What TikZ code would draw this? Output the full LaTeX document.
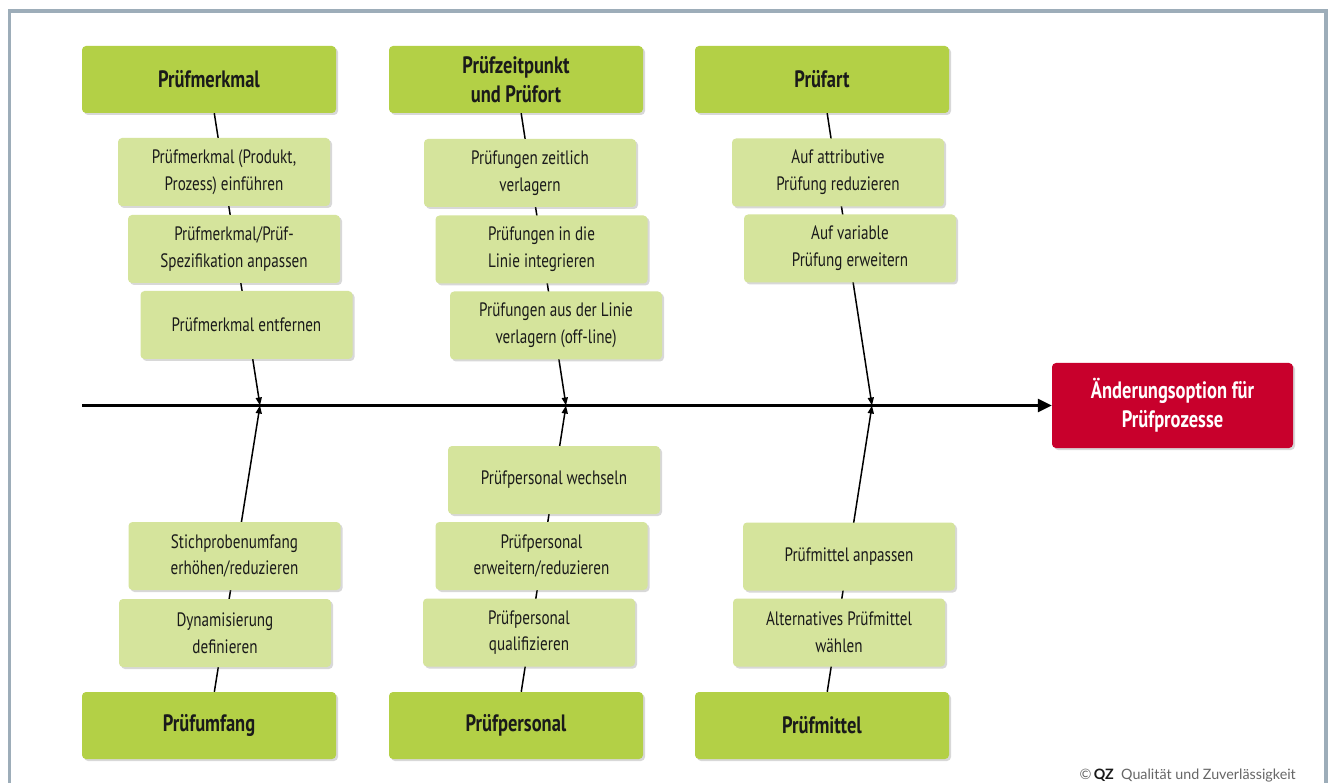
\documentclass[tikz,border=0pt]{standalone}
\usepackage{fontspec}
\setmainfont{PT Sans}[FakeStretch=0.78]
\newfontfamily\cpfont{Lato}
\usetikzlibrary{arrows.meta,shadows,calc}
\definecolor{maingreen}{HTML}{B3D046}
\definecolor{lightgreen}{HTML}{D5E49C}
\definecolor{qzred}{HTML}{C8002C}
\definecolor{framegrey}{HTML}{9DADB9}
\definecolor{txt}{HTML}{1A1A1A}
\tikzset{
  boxshadow/.style={drop shadow={opacity=0.25,shadow xshift=2pt,shadow yshift=-2pt,fill=black!60}},
  mainbox/.style={fill=maingreen,rounded corners=4pt,minimum width=254pt,minimum height=67pt,
    align=center,text=txt,font=\fontsize{23.7}{29}\selectfont\bfseries,boxshadow,inner sep=0pt},
  subbox/.style={fill=lightgreen,rounded corners=4pt,minimum width=212pt,minimum height=68pt,
    align=center,text=txt,font=\fontsize{19.4}{26.7}\selectfont,boxshadow,inner sep=0pt},
  goalbox/.style={fill=qzred,rounded corners=4pt,minimum width=241pt,minimum height=85pt,
    align=center,text=white,font=\fontsize{23.7}{29}\selectfont\bfseries,boxshadow,inner sep=0pt},
  spine/.style={line width=1.5pt,black,-{Triangle[length=8pt,width=6pt]}},
  axis/.style={line width=2.5pt,black,-{Triangle[length=14pt,width=13pt]}}
}
\begin{document}
\begin{tikzpicture}[x=1pt,y=-1pt]
\useasboundingbox (0,0) rectangle (1333,783);
\fill[white] (0,0) rectangle (1333,783);
\begin{scope}
\clip (0,0) rectangle (1333,783);
\draw[framegrey,line width=3.5pt] (9.5,11) rectangle (1326,810);
\end{scope}
% main cause boxes
\node[mainbox] (m1) at (209,79.5) {Prüfmerkmal};
\node[mainbox] (m2) at (516,79.5) {Prüfzeitpunkt\\und Prüfort};
\node[mainbox] (m3) at (822,79.5) {Prüfart};
\node[mainbox] (m4) at (209,725.5) {Prüfumfang};
\node[mainbox] (m5) at (516,725.5) {Prüfpersonal};
\node[mainbox] (m6) at (822,725.5) {Prüfmittel};
\node[goalbox] (goal) at (1172.5,405.5) {Änderungsoption für\\Prüfprozesse};
% axis
\coordinate (start) at (82,405.5);
\coordinate (a1) at (260,405.5);
\coordinate (a2) at (566,405.5);
\coordinate (a3) at (872,405.5);
\draw[axis] (start) -- (goal.west);
\draw[spine] (m1) -- (a1);
\draw[spine] (m2) -- (a2);
\draw[spine] (m3) -- (a3);
\draw[spine] (m4) -- (a1);
\draw[spine] (m5) -- (a2);
\draw[spine] (m6) -- (a3);
% sub boxes top
\node[subbox] (s11) at (224,172) {Prüfmerkmal (Produkt,\\Prozess) einführen};
\node[subbox] (s12) at (234,249) {Prüfmerkmal/Prüf-\\Spezifikation anpassen};
\node[subbox] (s13) at (246.5,325) {Prüfmerkmal entfernen};
\node[subbox] (s21) at (530,173) {Prüfungen zeitlich\\verlagern};
\node[subbox] (s22) at (541.5,249.5) {Prüfungen in die\\Linie integrieren};
\node[subbox] (s23) at (556,325.5) {Prüfungen aus der Linie\\verlagern (off-line)};
\node[subbox] (s31) at (838,172.5) {Auf attributive\\Prüfung reduzieren};
\node[subbox] (s32) at (850,248.5) {Auf variable\\Prüfung erweitern};
% sub boxes bottom
\node[subbox] (s41) at (234.5,556) {Stichprobenumfang\\erhöhen/reduzieren};
\node[subbox] (s42) at (225,633) {Dynamisierung\\definieren};
\node[subbox] (s51) at (554,480) {Prüfpersonal wechseln};
\node[subbox] (s52) at (541.5,556) {Prüfpersonal\\erweitern/reduzieren};
\node[subbox] (s53) at (529,632.5) {Prüfpersonal\\qualifizieren};
\node[subbox] (s61) at (849,556.5) {Prüfmittel anpassen};
\node[subbox] (s62) at (839,632.5) {Alternatives Prüfmittel\\wählen};
% copyright
\node[anchor=base east,text=black!60,font=\cpfont\fontsize{14.3}{16}\selectfont,inner sep=0pt] (cp) at (1296,779)
  {©\,{\color{black!90}\bfseries QZ}\ \ Qualität und Zuverlässigkeit};
\end{tikzpicture}
\end{document}
